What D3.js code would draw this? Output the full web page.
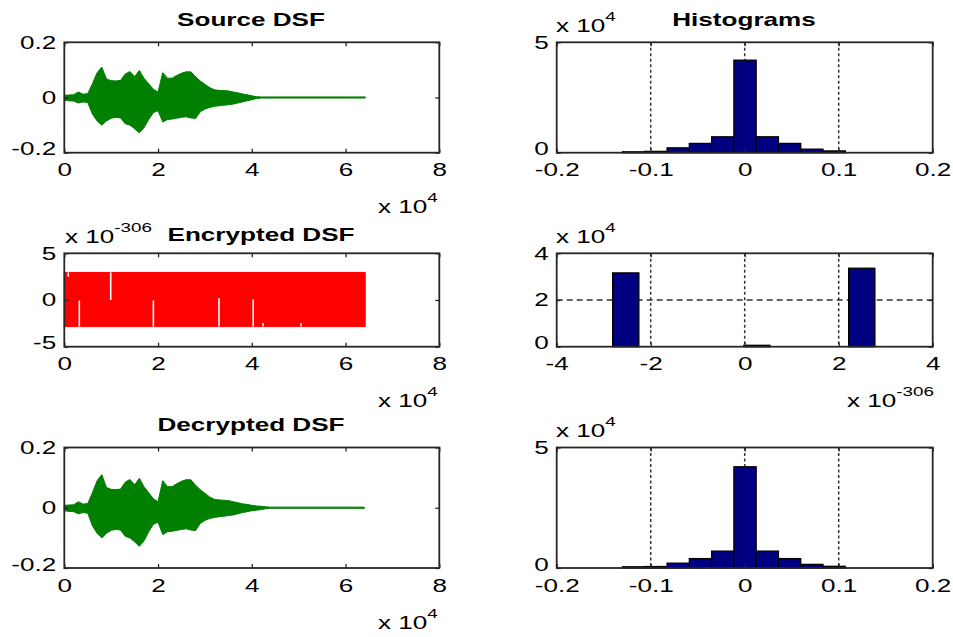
<!DOCTYPE html>
<html>
<head>
<meta charset="utf-8">
<script src="https://cdn.jsdelivr.net/npm/d3@7"></script>
<style>
  body { margin: 0; background: #fff; }
  svg text { font-family: "Liberation Sans", Arial, sans-serif; fill: #000; }
</style>
</head>
<body>
<div id="graphic"></div>
<script>
// ---- values ----

// source waveform envelope (sample index, upper / lower amplitude)
const srcSample = [0, 1000, 2000, 3000, 4000, 5000, 6000, 7000, 8000, 9000,
  10000, 11000, 12000, 13000, 14000, 15000, 16000, 17000, 18000, 19000,
  20000, 21000, 22000, 23000, 24000, 25000, 26000, 27000, 28000, 29000,
  30000, 31000, 32000, 33000, 34000, 35000, 36000, 37000, 38000, 39000,
  40000, 41000, 42000, 64200];
const srcUpper = [0.008, 0.009, 0.010, 0.020, 0.012, 0.014, 0.050, 0.090, 0.110, 0.067,
  0.061, 0.060, 0.062, 0.085, 0.094, 0.076, 0.098, 0.070, 0.050, 0.030,
  0.020, 0.090, 0.070, 0.070, 0.080, 0.088, 0.093, 0.093, 0.075, 0.060,
  0.048, 0.036, 0.028, 0.026, 0.025, 0.024, 0.020, 0.017, 0.013, 0.010,
  0.006, 0.003, 0.002, 0.002];
const srcLower = [-0.010, -0.012, -0.013, -0.020, -0.016, -0.018, -0.060, -0.085, -0.100, -0.085,
  -0.075, -0.072, -0.074, -0.095, -0.100, -0.113, -0.128, -0.110, -0.080, -0.055,
  -0.048, -0.089, -0.080, -0.078, -0.075, -0.072, -0.070, -0.074, -0.076, -0.052,
  -0.042, -0.036, -0.032, -0.030, -0.028, -0.026, -0.024, -0.020, -0.016, -0.012,
  -0.008, -0.004, -0.002, -0.002];

// decrypted waveform envelope
const decSample = [0, 1000, 2000, 3000, 4000, 5000, 6000, 7000, 8000, 9000,
  10000, 11000, 12000, 13000, 14000, 15000, 16000, 17000, 18000, 19000,
  20000, 21000, 22000, 23000, 24000, 25000, 26000, 27000, 28000, 29000,
  30000, 31000, 32000, 33000, 34000, 35000, 36000, 37000, 38000, 39000,
  40000, 41000, 42000, 43000, 44000, 64000];
const decUpper = [0.008, 0.009, 0.010, 0.020, 0.012, 0.014, 0.050, 0.090, 0.110, 0.067,
  0.061, 0.060, 0.062, 0.085, 0.094, 0.076, 0.098, 0.070, 0.050, 0.030,
  0.020, 0.090, 0.070, 0.070, 0.080, 0.088, 0.093, 0.093, 0.075, 0.060,
  0.048, 0.036, 0.028, 0.026, 0.025, 0.024, 0.020, 0.017, 0.013, 0.011,
  0.008, 0.006, 0.005, 0.003, 0.002, 0.002];
const decLower = [-0.010, -0.012, -0.013, -0.020, -0.016, -0.018, -0.060, -0.085, -0.100, -0.085,
  -0.075, -0.072, -0.074, -0.095, -0.100, -0.113, -0.128, -0.110, -0.080, -0.055,
  -0.048, -0.089, -0.080, -0.078, -0.075, -0.072, -0.070, -0.074, -0.076, -0.052,
  -0.042, -0.036, -0.032, -0.030, -0.028, -0.026, -0.024, -0.020, -0.016, -0.013,
  -0.010, -0.008, -0.006, -0.003, -0.002, -0.002];

// encrypted waveform (units of 1e-306): band + white gaps
const encSample = [0, 64200];
const encUpper = [2.95, 2.95];
const encLower = [-2.85, -2.85];
const encGapSample = [850, 3200, 9900, 19000, 33000, 40300, 42400, 50500];
const encGapFrom = [2.95, -0.05, 2.95, -0.05, 0.2, 0.05, -2.85, -2.85];
const encGapTo = [2.5, -2.85, 0.0, -2.85, -2.85, -2.85, -2.45, -2.5];

// histograms: bin edges and counts
const srcHistEdges = [-0.130, -0.1063, -0.0826, -0.0589, -0.0352, -0.0115, 0.0122, 0.0359, 0.0596, 0.0833, 0.107];
const srcHistCounts = [400, 600, 2200, 4200, 7200, 41900, 7200, 4200, 1600, 800];
const encHistEdges = [-2.81, -2.252, -1.694, -1.136, -0.578, -0.02, 0.538, 1.096, 1.654, 2.212, 2.77];
const encHistCounts = [31600, 0, 0, 0, 0, 600, 0, 0, 0, 33600];
const decHistEdges = [-0.130, -0.1063, -0.0826, -0.0589, -0.0352, -0.0115, 0.0122, 0.0359, 0.0596, 0.0833, 0.107];
const decHistCounts = [500, 600, 2000, 3900, 7000, 42000, 7000, 3900, 1500, 700];

// ticks
const waveXTicks = [0, 20000, 40000, 60000, 80000];
const waveXLabels = ["0", "2", "4", "6", "8"];
const waveYTicks = [-0.2, 0, 0.2];
const waveYLabels = ["-0.2", "0", "0.2"];
const encYTicks = [-5, 0, 5];
const encYLabels = ["-5", "0", "5"];
const histXTicks = [-0.2, -0.1, 0, 0.1, 0.2];
const histXLabels = ["-0.2", "-0.1", "0", "0.1", "0.2"];
const histYTicks = [0, 50000];
const histYLabels = ["0", "5"];
const encHistXTicks = [-4, -2, 0, 2, 4];
const encHistXLabels = ["-4", "-2", "0", "2", "4"];
const encHistYTicks = [0, 20000, 40000];
const encHistYLabels = ["0", "2", "4"];

// ---- layout ----
const W = 953, H = 637;
const SX = 1.45;   // reference text is stretched horizontally
const FS = 18;
const COLS = [{ x0: 64.3, x1: 439.3 }, { x0: 556.7, x1: 932.7 }];
const ROWS = [{ y0: 42.3, y1: 152.7 }, { y0: 253.3, y1: 346.7 }, { y0: 447.5, y1: 568 }];

const svg = d3.select("#graphic").append("svg")
  .attr("width", W)
  .attr("height", H);

function label(x, y, str, anchor, bold) {
  return svg.append("text")
    .attr("transform", `translate(${x},${y}) scale(${SX},1)`)
    .attr("text-anchor", anchor || "start")
    .attr("font-size", FS)
    .attr("font-weight", bold ? "bold" : "normal")
    .text(str);
}

function expLabel(x, y, exp) {
  const t = svg.append("text")
    .attr("transform", `translate(${x},${y}) scale(${SX},1)`)
    .attr("font-size", FS);
  t.append("tspan").text("x 10");
  t.append("tspan").attr("dy", -11).attr("font-size", 13).text(exp);
}

function makePanel(c, r, xDomain, yDomain) {
  const col = COLS[c], row = ROWS[r];
  const x = d3.scaleLinear().domain(xDomain).range([col.x0, col.x1]);
  const y = d3.scaleLinear().domain(yDomain).range([row.y1, row.y0]);
  return { x, y, g: svg.append("g") };
}

function frame(p, xTicks, xLabels, yTicks, yLabels) {
  const [x0, x1] = p.x.range(), [y1, y0] = p.y.range();
  const g = svg.append("g");

  const bottom = g.append("g").attr("transform", `translate(0,${y1})`)
    .call(d3.axisBottom(p.x).tickValues(xTicks).tickFormat((d, i) => xLabels[i])
      .tickSizeInner(-4).tickSizeOuter(0).tickPadding(11));
  bottom.selectAll("text").attr("transform", `scale(${SX},1)`);

  const left = g.append("g").attr("transform", `translate(${x0},0)`)
    .call(d3.axisLeft(p.y).tickValues(yTicks).tickFormat((d, i) => yLabels[i])
      .tickSizeInner(-4).tickSizeOuter(0).tickPadding(8));
  // lowest label nudged up a little so it clears the first x label
  left.selectAll("text")
    .attr("x", -8 / SX)
    .attr("dy", (d, i) => i === 0 ? "0.12em" : "0.32em")
    .attr("transform", `scale(${SX},1)`);

  g.append("g").attr("transform", `translate(0,${y0})`)
    .call(d3.axisTop(p.x).tickValues(xTicks).tickFormat("").tickSizeInner(-4).tickSizeOuter(0));
  g.append("g").attr("transform", `translate(${x1},0)`)
    .call(d3.axisRight(p.y).tickValues(yTicks).tickFormat("").tickSizeInner(-4).tickSizeOuter(0));

  g.selectAll(".domain").remove();
  g.selectAll(".tick line").attr("stroke", "#262626").attr("stroke-width", 1.3);
  g.selectAll("text").attr("font-size", FS).attr("font-family", "Liberation Sans, Arial, sans-serif").attr("fill", "#000");

  g.append("rect")
    .attr("x", x0).attr("y", y0)
    .attr("width", x1 - x0).attr("height", y1 - y0)
    .attr("fill", "none").attr("stroke", "#262626").attr("stroke-width", 1.8);
}

function wave(p, samples, upper, lower, color) {
  const pts = samples.map((s, i) => ({ s, hi: upper[i], lo: lower[i] }));
  const area = d3.area()
    .x(d => p.x(d.s))
    .y0(d => p.y(d.lo))
    .y1(d => p.y(d.hi));
  p.g.append("path").datum(pts)
    .attr("d", area)
    .attr("fill", color)
    .attr("stroke", color)
    .attr("stroke-width", 1);
}

function grid(p, xVals, yVals) {
  const [x0, x1] = p.x.range(), [y1, y0] = p.y.range();
  p.g.selectAll(".vgrid").data(xVals).enter().append("line")
    .attr("x1", d => p.x(d)).attr("x2", d => p.x(d))
    .attr("y1", y0).attr("y2", y1)
    .attr("stroke", "#333").attr("stroke-width", 1.5).attr("stroke-dasharray", "3,2.5");
  p.g.selectAll(".hgrid").data(yVals).enter().append("line")
    .attr("x1", x0).attr("x2", x1)
    .attr("y1", d => p.y(d)).attr("y2", d => p.y(d))
    .attr("stroke", "#333").attr("stroke-width", 1.5).attr("stroke-dasharray", "6,4");
}

function hist(p, edges, counts) {
  const bins = counts.map((c, i) => ({ a: edges[i], b: edges[i + 1], c }));
  p.g.selectAll(".bar").data(bins).enter().append("rect")
    .attr("x", d => p.x(d.a))
    .attr("width", d => p.x(d.b) - p.x(d.a))
    .attr("y", d => p.y(d.c))
    .attr("height", d => p.y(0) - p.y(d.c))
    .attr("fill", "#000080")
    .attr("stroke", "#000")
    .attr("stroke-width", 1.3);
}

// ---- row 1: source ----
const p1 = makePanel(0, 0, [0, 80000], [-0.2, 0.2]);
wave(p1, srcSample, srcUpper, srcLower, "#007f00");
frame(p1, waveXTicks, waveXLabels, waveYTicks, waveYLabels);
label(251, 26, "Source DSF", "middle", true);
expLabel(378, 213, "4");

const p2 = makePanel(1, 0, [-0.2, 0.2], [0, 50000]);
grid(p2, [-0.1, 0, 0.1], []);
hist(p2, srcHistEdges, srcHistCounts);
frame(p2, histXTicks, histXLabels, histYTicks, histYLabels);
label(744, 26, "Histograms", "middle", true);
expLabel(556, 32, "4");

// ---- row 2: encrypted ----
const p3 = makePanel(0, 1, [0, 80000], [-5, 5]);
wave(p3, encSample, encUpper, encLower, "#ff0000");
p3.g.selectAll(".gap").data(encGapSample.map((s, i) => ({ s, a: encGapFrom[i], b: encGapTo[i] })))
  .enter().append("line")
  .attr("x1", d => p3.x(d.s)).attr("x2", d => p3.x(d.s))
  .attr("y1", d => p3.y(d.a)).attr("y2", d => p3.y(d.b))
  .attr("stroke", "#fff").attr("stroke-width", 1.6);
frame(p3, waveXTicks, waveXLabels, encYTicks, encYLabels);
label(261, 241, "Encrypted DSF", "middle", true);
expLabel(65, 243, "-306");
expLabel(378, 407, "4");

const p4 = makePanel(1, 1, [-4, 4], [0, 40000]);
grid(p4, [-2, 0, 2], [20000]);
hist(p4, encHistEdges, encHistCounts);
frame(p4, encHistXTicks, encHistXLabels, encHistYTicks, encHistYLabels);
expLabel(556, 243, "4");
expLabel(847, 407, "-306");

// ---- row 3: decrypted ----
const p5 = makePanel(0, 2, [0, 80000], [-0.2, 0.2]);
wave(p5, decSample, decUpper, decLower, "#007f00");
frame(p5, waveXTicks, waveXLabels, waveYTicks, waveYLabels);
label(251, 431, "Decrypted DSF", "middle", true);
expLabel(378, 629, "4");

const p6 = makePanel(1, 2, [-0.2, 0.2], [0, 50000]);
grid(p6, [-0.1, 0, 0.1], []);
hist(p6, decHistEdges, decHistCounts);
frame(p6, histXTicks, histXLabels, histYTicks, histYLabels);
expLabel(556, 437, "4");
</script>
</body>
</html>
